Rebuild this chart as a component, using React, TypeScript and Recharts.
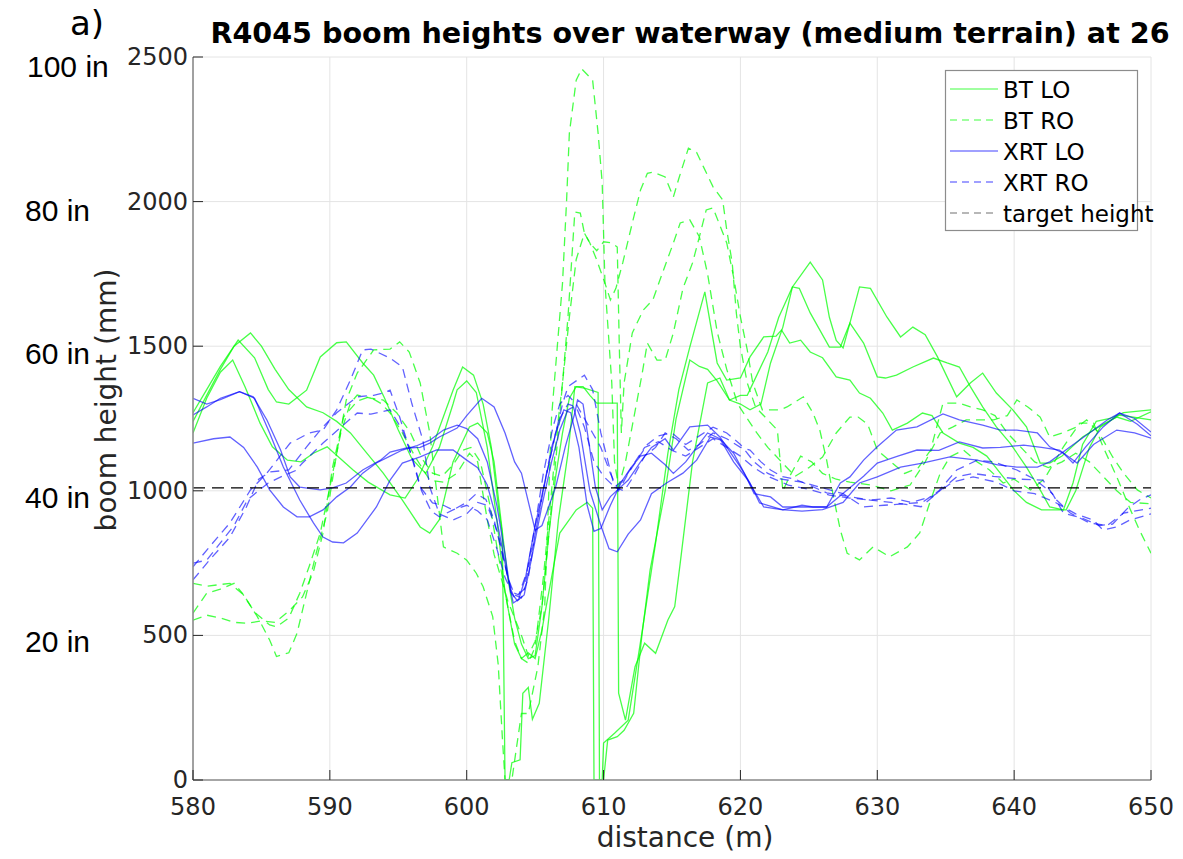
import React from 'react';
import { LineChart, Line, XAxis, YAxis, CartesianGrid, Legend } from 'recharts';

type Pt = [number, number];

const X_TICKS = [580, 590, 600, 610, 620, 630, 640, 650];
const Y_TICKS = [0, 500, 1000, 1500, 2000, 2500];
const INCH_LABELS = ['100 in', '80 in', '60 in', '40 in', '20 in'];
const TITLE = 'R4045 boom heights over waterway (medium terrain) at 26';
const PANEL = 'a)';
const X_LABEL = 'distance (m)';
const Y_LABEL = 'boom height (mm)';
const TARGET_HEIGHT = 1010;
const TARGET: Pt[] = [[580, TARGET_HEIGHT], [650, TARGET_HEIGHT]];

const BT_LO_1: Pt[] = [[580,1270],[581,1350],[582,1430],[583.3,1521],[584.5,1460],[585.5,1350],[586.1,1307],[587,1300],[588.3,1348],[589.3,1463],[590.5,1512],[591.2,1515],[592.4,1442],[593.2,1400],[594,1320],[595,1210],[596,1110],[597,1060],[598,1150],[599,1300],[599.3,1349],[600,1380],[600.7,1340],[601.5,1150],[602.2,900],[602.8,650],[603.5,470],[604,420],[604.5,440],[605,420],[605.5,520],[606,650],[606.8,854],[607.5,900],[608,934],[608.8,960],[609.2,940],[609.3,0],[609.9,0],[610,128],[610.8,162],[611.8,207],[612.8,508],[613.8,819],[614.7,1130],[615.5,1350],[616.3,1497],[617.4,1688],[618.3,1442],[619,1383],[620,1390],[620.7,1463],[621.7,1532],[622.6,1535],[623,1556],[623.6,1511],[624.4,1521],[625.1,1480],[626,1460],[627,1394],[628,1383],[628.7,1338],[629.5,1320],[630.4,1269],[631.1,1210],[632.2,1234],[633.3,1269],[634,1260],[634.8,1200],[636,1165],[637,1150],[638,1120],[639,1060],[640,1000],[640.9,960],[642,934],[643.8,934],[644.5,1000],[645.5,1150],[646.3,1221],[647.7,1262],[650,1245]];
const BT_LO_2: Pt[] = [[580,1240],[581,1330],[582,1420],[583,1500],[584.2,1546],[585,1500],[586,1420],[587,1350],[588.3,1290],[589.5,1270],[590.5,1240],[591.5,1200],[592.7,1130],[593.9,1061],[595.3,968],[596.6,875],[597.3,854],[598,900],[599,1100],[600.2,1221],[600.8,1234],[601.5,1200],[602,1100],[602.5,900],[603,700],[603.5,560],[604,470],[604.5,420],[605,430],[605.5,600],[606,850],[606.5,1050],[607,1200],[607.5,1320],[608,1360],[608.5,1360],[609,1330],[609.5,1303],[611,1303],[611.1,300],[611.6,207],[612.3,392],[613,473],[613.8,438],[614.7,553],[615.2,600],[615.6,750],[616.5,1100],[617.6,1373],[618.5,1390],[619.2,1314],[620,1300],[620.7,1280],[621.5,1300],[622.2,1442],[623.1,1566],[623.8,1705],[625.1,1791],[626,1729],[626.5,1600],[627,1520],[627.5,1494],[628,1580],[628.7,1705],[629.5,1700],[630.7,1601],[631.7,1532],[632.6,1566],[633.5,1540],[634.4,1463],[635.8,1325],[636.8,1373],[637.7,1407],[638.7,1338],[639.9,1280],[640.9,1221],[641.9,1096],[642.6,1096],[643.5,1120],[645,1186],[646.5,1230],[647.5,1255],[648.5,1240],[650,1273]];
const BT_LO_3: Pt[] = [[580,1200],[581,1320],[582,1410],[582.9,1452],[583.8,1360],[584.9,1234],[585.8,1152],[586.9,1106],[587.9,1100],[588.8,1130],[589.8,1152],[590.8,1110],[591.7,1072],[592.8,1030],[594.4,986],[595.5,975],[596.4,1040],[597.5,1152],[599,1348],[599.7,1428],[600.5,1400],[601.2,1300],[601.8,1150],[602.3,950],[602.6,854],[602.8,0],[603.1,0],[603.3,60],[603.9,70],[604.1,300],[604.5,320],[604.8,210],[605.3,265],[606,560],[606.7,900],[607.4,1130],[607.9,1360],[608.6,1355],[609.6,1340],[609.7,0],[610,0],[610.3,138],[611,150],[611.5,172],[612.2,231],[612.8,500],[613.4,726],[614.5,1000],[615.3,1250],[616.3,1452],[617,1430],[617.6,1420],[618.3,1380],[619.2,1314],[620,1330],[620.5,1330],[621.2,1400],[622,1480],[622.8,1600],[623.8,1705],[624.3,1700],[625.1,1615],[626.5,1497],[627.3,1497],[628,1580],[629,1511],[630,1394],[630.6,1390],[631.4,1400],[632.6,1428],[634.1,1459],[635.1,1442],[636,1428],[636.8,1360],[637.7,1290],[638.7,1221],[639.7,1165],[640.9,1082],[641.9,1003],[642.6,944],[643.6,934],[644.3,1027],[645,1160],[646,1240],[647,1250],[648,1270],[650,1280]];

const BT_RO_1: Pt[] = [[580,680],[581,670],[582.7,680],[583.7,640],[584.7,565],[585.6,484],[586.1,427],[587,440],[587.6,507],[588.3,646],[589,784],[589.8,923],[590.5,1130],[591.2,1314],[592,1407],[593.2,1487],[594.4,1490],[595.1,1515],[595.8,1480],[596.6,1373],[597.3,1200],[597.8,1000],[598.3,806],[599.3,784],[600,760],[600.7,715],[601.2,668],[601.9,565],[602.3,400],[602.6,150],[602.8,0],[603.3,0],[603.6,100],[604,230],[604.5,230],[605.2,392],[605.7,600],[606,1000],[606.2,1255],[606.4,1373],[606.7,1546],[607,1718],[607.3,2006],[607.5,2237],[608,2420],[608.4,2459],[609.2,2420],[609.6,2237],[609.9,2064],[610.1,1718],[610.6,1373],[610.8,1100],[611.1,1013],[611.6,1100],[612.2,1250],[612.8,1400],[613.2,1511],[613.9,1452],[614.5,1452],[615.1,1546],[615.8,1700],[616.5,1788],[617,1878],[617.6,1750],[618.3,1550],[619,1420],[619.8,1300],[620.5,1250],[621.2,1200],[622,1150],[623,1100],[624,1050],[625,1080],[626,1117],[627,1200],[628,1255],[628.6,1255],[629.3,1230],[630,1141],[631,1100],[632,1060],[633,1080],[633.9,1141],[634.8,1303],[636,1303],[636.8,1290],[637.7,1280],[638.6,1260],[639.5,1200],[640.5,1150],[641.5,1100],[642.5,1080],[643.5,1100],[644.5,1130],[645.5,1100],[646.5,1050],[647.5,1000],[648.5,960],[650,955]];
const BT_RO_2: Pt[] = [[580,577],[581,646],[582,660],[583,680],[583.6,646],[584.5,580],[585.6,536],[586.1,530],[587,560],[587.8,646],[588.5,740],[589.3,854],[590,1013],[590.8,1200],[591.5,1303],[592,1331],[593,1320],[593.9,1314],[594.9,1269],[595.9,1200],[596.8,1106],[597.5,1061],[598.2,1050],[599,1090],[599.7,1140],[600.3,1150],[601,1100],[601.7,950],[602.3,780],[603,600],[603.5,480],[604,420],[604.5,404],[605,460],[605.6,700],[606.2,1000],[606.7,1250],[607,1373],[607.4,1601],[607.9,1964],[608.3,1960],[608.6,1891],[609,1857],[609.5,1798],[610.1,1718],[610.5,1660],[610.9,1700],[611.4,1788],[612.1,1926],[612.7,2040],[613.2,2098],[613.6,2102],[614.5,2085],[615.1,2016],[615.5,2080],[616.2,2185],[616.8,2170],[617.3,2120],[618,2051],[618.7,2006],[619,1902],[619.4,1788],[619.7,1615],[620,1497],[620.5,1373],[621.1,1290],[621.8,1255],[622.7,1210],[623.1,1000],[623.6,1050],[624.4,1120],[625.2,1100],[626,1060],[627,1040],[628,1030],[629.5,1020],[631,1000],[632.4,1020],[633.5,1100],[634.6,1200],[635.5,1220],[636.5,1245],[637.5,1245],[638.5,1245],[639.5,1260],[640.2,1314],[641,1290],[641.9,1255],[642.6,1186],[643.5,1200],[644.6,1221],[645.3,1245],[646.2,1200],[647.2,1117],[648,1061],[649,1003],[650,975]];
const BT_RO_3: Pt[] = [[580,553],[581,570],[582,560],[583,545],[584,542],[585,550],[586,545],[587.1,588],[588,633],[588.8,720],[589.5,854],[590.2,1082],[591,1255],[592,1310],[592.9,1325],[593.8,1300],[594.4,1269],[595.3,1200],[596.2,1120],[597.3,1037],[598.3,1030],[599.3,1061],[600.2,1130],[600.8,1100],[601.5,900],[602,780],[602.5,700],[603,620],[603.5,560],[604,500],[604.5,430],[605,480],[605.5,600],[606,850],[606.5,1100],[607,1373],[607.5,1600],[608,1800],[608.6,1891],[609,1857],[609.5,1830],[610,1861],[610.6,1857],[611,1843],[611.15,1500],[611.3,1200],[611.5,1373],[612.1,1546],[612.9,1625],[613.6,1660],[614.3,1753],[615.1,1857],[615.6,1926],[616.3,1937],[617,1878],[617.5,1971],[618,1978],[619,1857],[619.5,1739],[620,1601],[620.5,1487],[620.9,1373],[621.6,1280],[622.9,1280],[623.4,1290],[624.6,1325],[625.3,1269],[625.8,1210],[626.3,1106],[626.8,979],[627.3,864],[627.8,784],[628.7,761],[629.7,806],[630.9,772],[632.2,806],[633.1,854],[633.9,968],[634.6,1061],[635.3,1117],[636.3,1141],[637.3,1100],[638.2,1072],[639.2,1027],[640,1040],[641.2,1003],[642.2,1040],[643.6,1152],[644.8,1234],[645.8,1234],[646.5,1152],[647.5,1048],[648.5,934],[649.2,860],[650,784]];

const XRT_LO_1: Pt[] = [[580,1320],[581,1300],[582,1315],[583.4,1343],[584.4,1325],[585.4,1245],[586.4,1141],[587.1,1048],[587.8,1013],[589.3,1003],[590.2,1010],[591.2,1027],[592.4,1072],[593.7,1106],[594.4,1134],[595.6,1148],[596.6,1150],[597.3,1165],[598,1186],[599.3,1217],[600,1260],[601.1,1320],[602,1290],[602.8,1200],[603.5,1100],[604,1061],[605,864],[605.5,880],[606.5,1013],[607.2,1152],[607.9,1269],[608.1,1314],[608.5,1300],[608.9,1175],[609.4,1013],[609.9,934],[610.5,980],[611.8,1037],[612.7,1100],[613.5,1150],[614.5,1180],[615.1,1141],[616.3,1221],[617.6,1227],[618.5,1186],[619.3,1130],[620,1082],[620.7,1027],[621.4,958],[622,950],[623.1,934],[624.5,950],[625.3,944],[626.3,944],[627.3,1027],[628,1048],[629,1106],[630,1152],[631.4,1210],[632.9,1221],[634.8,1266],[636,1245],[637.7,1227],[639,1210],[640.2,1210],[641.7,1200],[642.6,1152],[643.6,1130],[644.3,1096],[645.2,1150],[646.5,1221],[647.7,1269],[648.8,1250],[650,1203]];
const XRT_LO_2: Pt[] = [[580,1262],[581,1290],[582,1320],[583.4,1343],[584.5,1320],[585.6,1200],[586.6,1082],[587.8,968],[588.8,889],[589.5,840],[590.2,823],[591,820],[592,854],[593.4,944],[594.4,1037],[595.3,1096],[596.6,1117],[597.8,1141],[599,1141],[600,1106],[600.8,1080],[601.5,1020],[602.2,900],[602.8,750],[603.4,612],[603.8,625],[604.3,700],[605,880],[605.8,1050],[606.5,1200],[607.1,1280],[607.6,1270],[608.2,1150],[608.8,950],[609.3,860],[609.8,870],[610.5,950],[611.3,1030],[612,1080],[612.7,1120],[613.5,1130],[614.5,1090],[615.1,1060],[616,1100],[616.8,1150],[617.6,1200],[618.5,1180],[619.5,1100],[620.5,1040],[621.7,944],[623,935],[624.5,930],[626,935],[627.5,960],[628.7,1027],[630,1048],[631.7,1082],[633.3,1096],[635.3,1117],[637.3,1106],[638.8,1090],[640.2,1082],[641.7,1082],[642.6,1100],[644.1,1152],[645.5,1200],[646.8,1245],[647.7,1269],[649,1230],[650,1190]];
const XRT_LO_3: Pt[] = [[580,1165],[581.5,1180],[582.7,1186],[583.7,1150],[584.7,1082],[585.6,1003],[586.6,944],[587.6,910],[588.5,910],[589.5,934],[590.5,979],[591.5,1013],[592.4,1061],[593.4,1096],[594.4,1120],[595.3,1141],[596.3,1155],[597.3,1175],[598.3,1210],[599.3,1227],[600,1215],[600.8,1180],[601.5,1100],[602.2,950],[602.8,780],[603.2,650],[603.7,620],[604.2,640],[604.8,780],[605.5,950],[606.2,1100],[606.8,1210],[607.4,1280],[607.8,1290],[608.3,1200],[609,1000],[609.8,880],[610.4,800],[611,789],[611.8,850],[612.7,899],[613.5,990],[614.6,1027],[615.8,1061],[616.8,1106],[617.8,1186],[618.6,1175],[619.5,1130],[620.3,1060],[621,990],[622.2,979],[623.1,944],[624.5,944],[625.5,944],[626.3,944],[627.8,1003],[629,1050],[630,1096],[631.5,1120],[632.9,1141],[634.5,1140],[636,1169],[637.7,1148],[639,1150],[640.7,1158],[642,1150],[643.3,1141],[644.6,1096],[645.8,1160],[647.5,1210],[648.8,1200],[650,1182]];

const XRT_RO_1: Pt[] = [[580,737],[581.2,806],[582.7,889],[584.2,1003],[585.4,1061],[587.1,1165],[588.5,1200],[589.5,1210],[590.5,1280],[591.5,1383],[592.4,1487],[593,1490],[594.4,1459],[595.3,1428],[596,1300],[596.8,1175],[597.3,1013],[598,920],[599,899],[600,920],[600.8,960],[601.5,950],[602.3,850],[603,700],[603.5,640],[604,630],[604.5,700],[605,850],[605.8,1050],[606.5,1200],[607,1300],[607.4,1360],[608,1380],[608.6,1400],[609.2,1350],[609.8,1200],[610.3,1106],[610.8,1013],[611.5,1000],[612.2,1050],[613,1120],[613.8,1150],[614.5,1200],[615.3,1180],[616.2,1140],[617,1160],[618,1200],[619,1180],[620,1150],[620.7,1141],[621.5,1100],[622.2,1072],[623,1050],[624,1040],[625,1020],[626.3,993],[628,980],[629.5,968],[631,960],[632.4,951],[633.2,945],[634.4,993],[635.8,1048],[637,1060],[638.5,1050],[640.5,1040],[642.1,1037],[643.1,968],[644.1,923],[645.5,889],[646.8,880],[648,923],[650,940]];
const XRT_RO_2: Pt[] = [[580,692],[581.2,760],[582.7,840],[583.9,944],[584.8,1040],[585.6,1065],[587,1072],[588.3,1152],[589.5,1221],[590.5,1270],[592,1325],[593.2,1330],[593.9,1338],[594.4,1348],[595.1,1255],[595.9,1130],[596.6,1013],[597.5,958],[598.3,950],[599,934],[600,960],[600.7,990],[601.4,970],[602,900],[602.7,760],[603.3,650],[603.8,640],[604.4,720],[605,880],[605.6,1060],[606.3,1220],[606.8,1300],[607.4,1330],[608,1300],[608.6,1250],[609.2,1200],[609.8,1150],[610.5,1060],[611.1,1000],[611.8,1060],[612.5,1110],[613.2,1160],[614,1190],[615,1200],[616,1160],[617,1190],[618,1220],[619,1200],[620,1160],[621,1100],[622,1060],[623,1040],[624.5,1030],[626,1010],[627.5,990],[629,944],[630.5,950],[632,955],[633.3,960],[634.5,1000],[635.8,1072],[637.3,1106],[638.5,1100],[640.2,1072],[641.5,1040],[642.8,990],[643.6,923],[645,905],[646.2,880],[647.2,885],[648.3,940],[649.2,970],[650,986]];
const XRT_RO_3: Pt[] = [[580,750],[581,760],[582,820],[583,880],[584,970],[585.5,1027],[586.5,1050],[587.5,1070],[588,1096],[589.5,1165],[590.8,1220],[592,1269],[593,1265],[594.4,1280],[595.3,1210],[596,1120],[596.7,1000],[597.4,930],[598,910],[599,934],[600,950],[600.8,930],[601.5,900],[602.2,800],[602.8,700],[603.5,630],[604.2,660],[604.8,800],[605.5,980],[606.2,1150],[606.8,1250],[607.4,1300],[608,1290],[608.6,1220],[609.3,1100],[610,1050],[610.8,1013],[611.5,1040],[612.3,1100],[613,1150],[614,1170],[615,1140],[616,1120],[617,1150],[618,1180],[619,1150],[620,1120],[621,1080],[622,1050],[623.5,1020],[625,1005],[626.5,985],[628,975],[629.5,968],[631,975],[632.5,960],[634,980],[635.5,1030],[637,1048],[638.7,1030],[640,1000],[641.5,990],[643,960],[644.5,920],[645.8,899],[646.5,864],[647.5,875],[648.5,900],[650,920]];

const GREEN = '#00ff00';
const BLUE = '#0000ff';

const SERIES = [
  { name: 'BT LO', runs: [BT_LO_1, BT_LO_2, BT_LO_3], color: GREEN, dash: undefined as string | undefined, opacity: 0.72 },
  { name: 'BT RO', runs: [BT_RO_1, BT_RO_2, BT_RO_3], color: GREEN, dash: '9 6', opacity: 0.72 },
  { name: 'XRT LO', runs: [XRT_LO_1, XRT_LO_2, XRT_LO_3], color: BLUE, dash: undefined as string | undefined, opacity: 0.62 },
  { name: 'XRT RO', runs: [XRT_RO_1, XRT_RO_2, XRT_RO_3], color: BLUE, dash: '9 6', opacity: 0.62 },
];

const LEGEND_ITEMS = [
  { label: 'BT LO', color: '#80ff80', dash: undefined as string | undefined },
  { label: 'BT RO', color: '#80ff80', dash: '7 5' },
  { label: 'XRT LO', color: '#8080ff', dash: undefined as string | undefined },
  { label: 'XRT RO', color: '#8080ff', dash: '7 5' },
  { label: 'target height', color: '#a0a0a0', dash: '7 5' },
];

const toRows = (pts: Pt[]) => pts.map(([x, y]) => ({ x, y }));

const TICK_COLOR = '#262626';
const FONT = 'DejaVu Sans';

const XTick = (props: any) => {
  const { x, y, payload } = props;
  return (
    <g>
      <line x1={x} y1={y} x2={x} y2={y - 10} stroke={TICK_COLOR} strokeWidth={1} />
      <text x={x} y={y + 35} textAnchor="middle" fill={TICK_COLOR} fontSize={24} fontFamily={FONT}>
        {payload.value}
      </text>
    </g>
  );
};

const YTick = (props: any) => {
  const { x, y, payload } = props;
  return (
    <g>
      <line x1={x} y1={y} x2={x + 10} y2={y} stroke={TICK_COLOR} strokeWidth={1} />
      <text x={x - 5} y={y + 8} textAnchor="end" fill={TICK_COLOR} fontSize={24} fontFamily={FONT}>
        {payload.value}
      </text>
    </g>
  );
};

const LegendBox = () => (
  <svg width={240} height={162} style={{ overflow: 'visible', display: 'block' }}>
    <rect x={0.5} y={0.5} width={192} height={160} fill="#ffffff" stroke="#8c8c8c" strokeWidth={1.2} />
    {LEGEND_ITEMS.map((it, i) => {
      const cy = 19 + i * 31;
      return (
        <g key={it.label}>
          <line x1={5} y1={cy} x2={53} y2={cy} stroke={it.color} strokeWidth={1.6} strokeDasharray={it.dash} />
          <text x={58} y={cy + 8.5} fontSize={23} fontFamily={FONT} fill="#000000">
            {it.label}
          </text>
        </g>
      );
    })}
  </svg>
);

export default function App() {
  const W = 1167;
  const H = 843;
  return (
    <div style={{ position: 'relative', width: W, height: H, fontFamily: FONT, background: '#ffffff' }}>
      <LineChart width={W} height={H} margin={{ top: 49, right: 24, bottom: 0, left: 0 }}>
        <CartesianGrid stroke="#e4e4e4" strokeWidth={1} />
        <XAxis
          type="number"
          dataKey="x"
          domain={[580, 650]}
          ticks={X_TICKS}
          interval={0}
          height={71}
          tickSize={0}
          tickMargin={0}
          tickLine={false}
          tick={<XTick />}
          axisLine={{ stroke: '#8c8c8c', strokeWidth: 1.6 }}
          allowDataOverflow
        />
        <YAxis
          type="number"
          dataKey="y"
          domain={[0, 2500]}
          ticks={Y_TICKS}
          interval={0}
          width={185}
          tickSize={0}
          tickMargin={0}
          tickLine={false}
          tick={<YTick />}
          axisLine={{ stroke: '#8c8c8c', strokeWidth: 1.6 }}
          allowDataOverflow
        />
        {SERIES.map((s) =>
          s.runs.map((run, i) => (
            <Line
              key={`${s.name}-${i}`}
              name={s.name}
              data={toRows(run)}
              dataKey="y"
              type="linear"
              stroke={s.color}
              strokeOpacity={s.opacity}
              strokeWidth={1.3}
              strokeDasharray={s.dash}
              dot={false}
              activeDot={false}
              legendType="none"
              isAnimationActive={false}
            />
          ))
        )}
        <Line
          name="target height"
          data={toRows(TARGET)}
          dataKey="y"
          type="linear"
          stroke="#000000"
          strokeWidth={1.2}
          strokeDasharray="12 7"
          dot={false}
          activeDot={false}
          legendType="none"
          isAnimationActive={false}
        />
        <Legend
          layout="vertical"
          align="center"
          verticalAlign="middle"
          content={() => <LegendBox />}
          wrapperStyle={{ left: 937, top: 62, width: 240, height: 162 }}
        />
      </LineChart>
      <svg
        width={W}
        height={H}
        style={{ position: 'absolute', left: 0, top: 0, overflow: 'visible', pointerEvents: 'none' }}
      >
        <text x={62} y={27} fontSize={34} fontFamily={FONT} fill="#000000">{PANEL}</text>
        <text x={682} y={35} textAnchor="middle" fontSize={28.6} fontWeight="bold" fontFamily={FONT} fill="#000000">
          {TITLE}
        </text>
        {INCH_LABELS.map((t, i) => (
          <text key={t} x={i === 0 ? 19 : 17} y={69 + i * 143.7} fontSize={30} fontFamily="Liberation Sans" fill="#000000">
            {t}
          </text>
        ))}
        <text x={677} y={839} textAnchor="middle" fontSize={28} fontFamily={FONT} fill={TICK_COLOR}>{X_LABEL}</text>
        <text
          x={108}
          y={392}
          textAnchor="middle"
          fontSize={28}
          fontFamily={FONT}
          fill={TICK_COLOR}
          transform="rotate(-90 108 392)"
        >
          {Y_LABEL}
        </text>
      </svg>
    </div>
  );
}
